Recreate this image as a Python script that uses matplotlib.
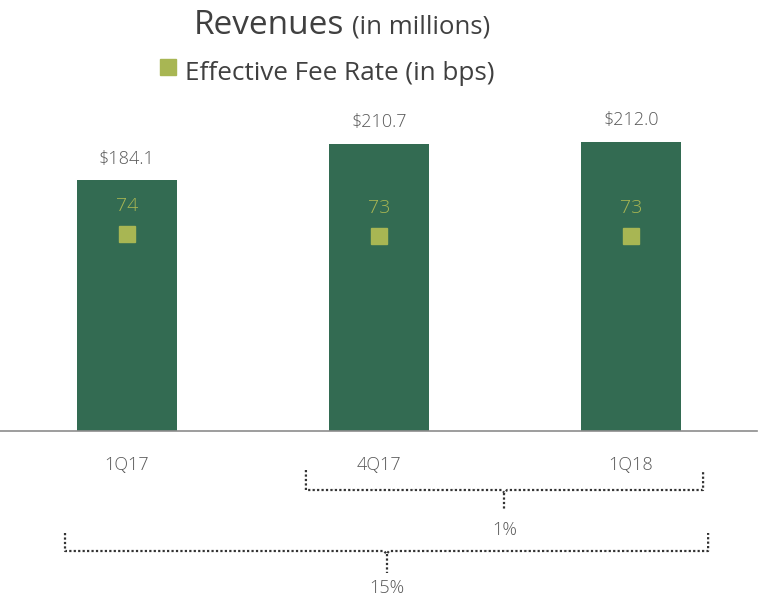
import matplotlib.pyplot as plt
import matplotlib.transforms as mtransforms

quarters = ["1Q17", "4Q17", "1Q18"]
revenues = [184.1, 210.7, 212.0]
fee_rates = [74, 73, 73]
# (start quarter, end quarter, label)
changes = [("4Q17", "1Q18", "1%"), ("1Q17", "1Q18", "15%")]

BAR = "#336b52"
OLIVE = "#a8b653"
TXT = "#595959"
FONT = "Open Sans"
FW = "light"

W, H = 761, 605
fig = plt.figure(figsize=(W / 100, H / 100), dpi=100)
ax = fig.add_axes([0, (H - 431) / H, 757 / W, 331 / H])
x = list(range(len(quarters)))

bars = ax.bar(x, revenues, width=0.397, color=BAR, zorder=2)
ax.set_xlim(-0.504, 2.5)
ax.set_ylim(0, 242.8)
for xi, v in zip(x, revenues):
    ax.annotate(f"${v:.1f}", (xi, v), xytext=(0, 9), textcoords="offset points",
                ha="center", va="bottom", fontsize=13, color=TXT, family=FONT, weight=FW)

ax2 = ax.twinx()
ax2.set_ylim(-24.5, 141)
ax2.plot(x, fee_rates, ls="none", marker="s", ms=11, color=OLIVE, zorder=3)
for xi, v in zip(x, fee_rates):
    ax2.annotate(f"{v}", (xi, v), xytext=(0, 14), textcoords="offset points",
                 ha="center", va="bottom", fontsize=14, color=OLIVE, family=FONT, weight=FW)

for a in (ax, ax2):
    for s in a.spines.values():
        s.set_visible(False)
    a.set_yticks([])
ax.spines["bottom"].set_visible(True)
ax.spines["bottom"].set_color("#8c8c8c")
ax.spines["bottom"].set_linewidth(1.2)
ax.set_xticks(x)
ax.set_xticklabels(quarters, fontsize=13, color=TXT, family=FONT, weight=FW)
ax.tick_params(axis="x", length=0, pad=18)

# change brackets
trans = mtransforms.blended_transform_factory(ax.transData, fig.transFigure)
def fy(py):
    return (H - py) / H

bracket_geo = [
    # left pad, right pad, top y, line y, tick bottom, label y
    (-0.29, 0.286, 470, 490, 510, 530),
    (-0.246, 0.306, 533, 551, 573, 588),
]
idx = {q: i for i, q in enumerate(quarters)}
for (q0, q1, lab), (lp, rp, ty, ly, tb, lby) in zip(changes, bracket_geo):
    x0 = idx[q0] + lp
    x1 = idx[q1] + rp
    xm = (x0 + x1) / 2
    kw = dict(color="#333333", lw=1.6, ls=(0, (1, 1)), transform=trans, clip_on=False)
    fig.add_artist(plt.Line2D([x0, x0, xm - 0.01, xm, xm + 0.01, x1, x1],
                              [fy(ty), fy(ly), fy(ly), fy(ly + 3), fy(ly), fy(ly), fy(ty)], **kw))
    fig.add_artist(plt.Line2D([xm, xm], [fy(ly + 3), fy(tb)], **kw))
    fig.text(xm, fy(lby), lab, transform=trans, ha="center", va="center",
             fontsize=13, color=TXT, family=FONT, weight=FW)

# title and legend
fig.text(194 / W, fy(25), "Revenues", ha="left", va="center", fontsize=24,
         color="#404040", family=FONT)
fig.text(352 / W, fy(27), "(in millions)", ha="left", va="center", fontsize=18.5,
         color="#404040", family=FONT)
fig.add_artist(plt.Line2D([168 / W], [fy(67)], marker="s", ms=11, color=OLIVE,
                          transform=fig.transFigure))
fig.text(185 / W, fy(73), "Effective Fee Rate (in bps)", ha="left", va="center",
         fontsize=18.8, color="#404040", family=FONT)

fig.savefig("out.png", dpi=100)
